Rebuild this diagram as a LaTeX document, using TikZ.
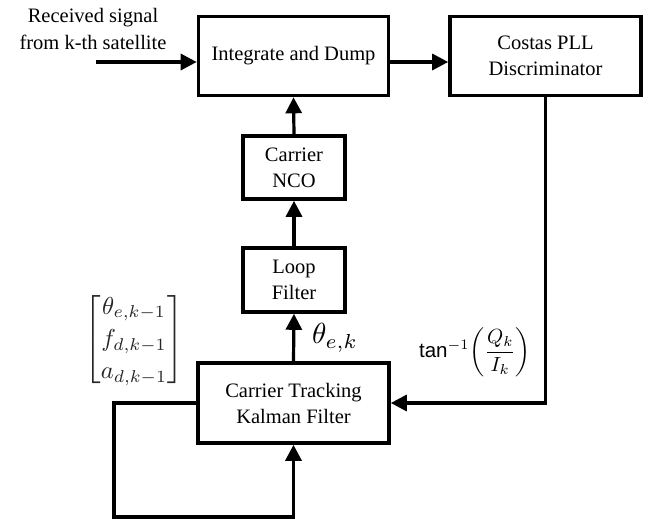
\documentclass[tikz,border=0pt]{standalone}
\usepackage{amsmath}
\usepackage{fontspec}
\setmainfont{Liberation Serif}
\newfontfamily\arialfont{Liberation Sans}
\usetikzlibrary{arrows.meta,calc}
\tikzset{
  blk/.style={draw, line width=3.6pt, inner sep=0pt, align=center,
              font=\fontsize{20.5}{26}\selectfont},
  arr/.style={line width=3.2pt, -{Triangle[length=16pt,width=16pt]}},
  lbl/.style={inner sep=0pt}
}
\begin{document}
\begin{tikzpicture}[x=1pt,y=-1pt]
\useasboundingbox (0,0) rectangle (649,519);

% blocks
\node[blk, minimum width=190pt, minimum height=79pt] (id) at (293.5,56) {Integrate and Dump};
\node[blk, minimum width=191pt, minimum height=79pt] (pll) at (545.5,56) {Costas PLL\\Discriminator};
\node[blk, minimum width=102pt, minimum height=63pt] (nco) at (294,167.5) {Carrier\\NCO};
\node[blk, minimum width=102pt, minimum height=64pt] (lf) at (294,280) {Loop\\Filter};
\node[blk, minimum width=191pt, minimum height=80pt] (kf) at (293.5,403) {Carrier Tracking\\Kalman Filter};

% input signal
\node[align=center, font=\fontsize{20.5}{27}\selectfont] (rx) at (93,29) {Received signal\\from k-th satellite};
\coordinate (in) at (96,62);
\draw[arr] (in) -- (in -| id.west);
\draw[arr] (in -| id.east) -- (in -| pll.west);

% forward chain
\draw[arr] (kf.north) -- (lf.south);
\draw[arr] (lf.north) -- (nco.south);
\draw[arr] (nco.north) -- (id.south);

% discriminator output back to the filter
\draw[arr] (pll.south) |- (kf.east);

% state feedback loop
\coordinate (fbl) at (114,403);
\coordinate (fbb) at (114,517);
\draw[arr] (kf.west) -- (fbl) -- (fbb) -- (fbb -| kf.south) -- (kf.south);

% labels
\node[lbl, scale=2.9] (th) at (335,338) {$\theta_{e,k}$};
\node[lbl, text=black!85, scale=2.45] (vec) at (134,340)
  {\renewcommand{\arraystretch}{1.1}$\begin{bmatrix}\theta_{e,k-1}\\ f_{d,k-1}\\ a_{d,k-1}\end{bmatrix}$};
\node[lbl, scale=2.05] (atan) at (475,352)
  {{\arialfont tan}$^{-1}\!\left(\dfrac{Q_k}{I_k}\right)$};
\end{tikzpicture}
\end{document}
